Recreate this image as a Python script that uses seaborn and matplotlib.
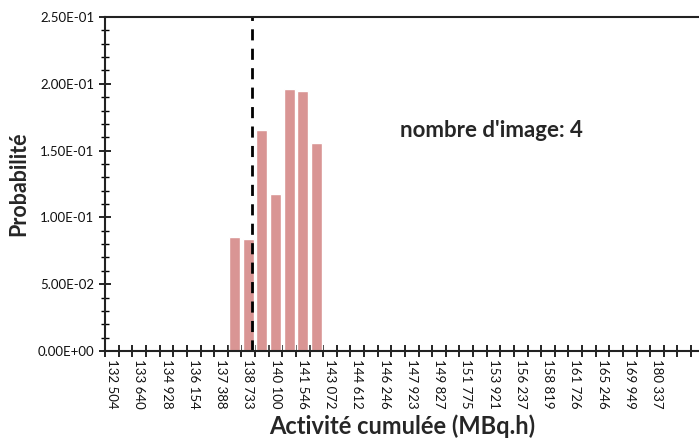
import numpy as np
import matplotlib
matplotlib.use('Agg')
import matplotlib.pyplot as plt
import matplotlib.ticker as ticker
import seaborn as sns

sns.set_style('white')
plt.rcParams['font.family'] = ['Lato', 'DejaVu Sans']

# bin labels (one label every other bin)
bin_labels = ['132 504', '133 640', '134 928', '136 154', '137 388', '138 733',
              '140 100', '141 546', '143 072', '144 612', '146 246', '147 923',
              '149 827', '151 775', '153 921', '156 237', '158 819', '161 726',
              '165 246', '169 949', '180 337']
n_bins = 44
# probability per bin
probs = [0, 0, 0, 0, 0, 0, 0, 0, 0,
         0.0851, 0.0841, 0.1654, 0.1173, 0.1959, 0.1946, 0.1559,
         0, 0, 0, 0, 0, 0, 0, 0, 0, 0, 0, 0, 0, 0,
         0, 0, 0, 0, 0, 0, 0, 0, 0, 0, 0, 0, 0, 0]
threshold_bin = 10.3
n_images = 4

fig = plt.figure(figsize=(6.99, 4.43), dpi=100)
ax = fig.add_axes([0.1505, 0.2077, 0.8495, 0.7539])

sns.barplot(x=list(range(n_bins)), y=probs, color='#D99594', width=0.8,
            saturation=1, ax=ax)
ax.axvline(threshold_bin, color='black', linewidth=2, linestyle=(0, (4, 3)))

ax.set_xlim(-0.5, 43.08)
ax.set_ylim(0, 0.25)

# x ticks: labels on every other bin, marks on bin borders
ax.set_xticks(np.arange(0, 2 * len(bin_labels), 2))
ax.set_xticklabels(bin_labels, rotation=-90, fontsize=9.5, color='#111111')
ax.xaxis.set_minor_locator(ticker.FixedLocator(np.arange(-0.5, n_bins, 1)))
ax.tick_params(axis='x', which='major', length=0, pad=6)
ax.tick_params(axis='x', which='minor', direction='inout', length=8, width=1.2,
               color='black', bottom=True)

# y ticks in scientific notation
ax.yaxis.set_major_locator(ticker.MultipleLocator(0.05))
ax.yaxis.set_minor_locator(ticker.MultipleLocator(0.01))
ax.yaxis.set_major_formatter(ticker.FuncFormatter(lambda v, p: '{:.2E}'.format(v)))
ax.tick_params(axis='y', which='major', direction='inout', length=9, width=1.2,
               labelsize=9.5, labelcolor='#111111', color='black', left=True)
ax.tick_params(axis='y', which='minor', direction='inout', length=6, width=1,
               color='black', left=True)

for side in ['left', 'bottom', 'top']:
    ax.spines[side].set_color('#222222')
    ax.spines[side].set_linewidth(1.5)
ax.spines['right'].set_visible(False)

ax.set_xlabel('Activité cumulée (MBq.h)', fontsize=17, fontweight='bold', labelpad=4)
ax.set_ylabel('Probabilité', fontsize=15.5, fontweight='bold', labelpad=6)
ax.text(0.497, 0.66, "nombre d'image: {}".format(n_images), transform=ax.transAxes,
        fontsize=16, fontweight='bold', va='center')

fig.savefig('out.png', dpi=100)
